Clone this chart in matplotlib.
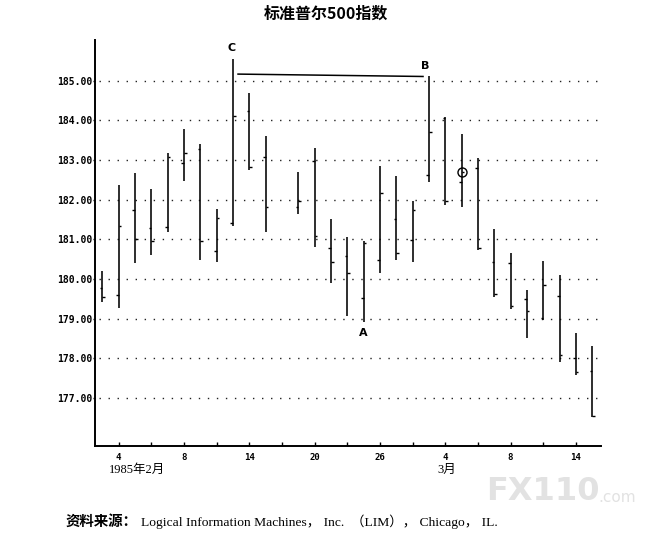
import matplotlib.pyplot as plt

# S&P 500 daily bars, Feb 1 - Mar 15 1985 (slot 11 = Feb 18 holiday, no bar)
slots = [0, 1, 2, 3, 4, 5, 6, 7, 8, 9, 10, 12, 13, 14, 15, 16, 17, 18, 19, 20,
         21, 22, 23, 24, 25, 26, 27, 28, 29, 30]
opens = [179.77, 179.60, 181.73, 181.30, 181.31, 182.92, 183.28, 180.70, 181.41, 184.24,
         183.07, 181.83, 182.97, 180.78, 180.59, 179.52, 180.49, 181.51, 180.99, 182.63,
         184.06, 182.44, 182.80, 180.44, 180.40, 179.49, 179.01, 179.58, 178.00, 177.67]
highs = [180.21, 182.38, 182.67, 182.27, 183.18, 183.78, 183.41, 181.76, 185.55, 184.69,
         183.62, 182.71, 183.30, 181.51, 181.07, 180.95, 182.84, 182.59, 181.97, 185.11,
         184.08, 183.66, 183.05, 181.27, 180.65, 179.73, 180.46, 180.11, 178.65, 178.32]
lows = [179.41, 179.26, 180.40, 180.61, 181.20, 182.48, 180.49, 180.42, 181.34, 182.74,
        181.18, 181.64, 180.80, 179.91, 179.06, 178.91, 180.15, 180.49, 180.44, 182.45,
        181.86, 181.81, 180.74, 179.56, 179.24, 178.51, 178.97, 177.91, 177.57, 176.51]
closes = [179.56, 181.33, 181.00, 180.97, 183.09, 183.18, 180.95, 181.54, 184.12, 182.82,
          181.83, 181.96, 181.09, 180.44, 180.15, 180.90, 182.17, 180.67, 181.75, 183.72,
          181.96, 182.69, 180.78, 179.63, 179.31, 179.20, 179.85, 178.09, 177.65, 176.55]

y_ticks = [177, 178, 179, 180, 181, 182, 183, 184, 185]
x_tick_slots = list(range(1, 30, 2))
x_label_map = {1: '4', 5: '8', 9: '14', 13: '20', 17: '26', 21: '4', 25: '8', 29: '14'}

W, H = 665, 542
fig = plt.figure(figsize=(W / 100, H / 100), dpi=100)
ax = fig.add_axes([95 / W, 1 - 446 / H, (601 - 95) / W, (446 - 40) / H])

def px(x, y):
    return x / W, 1 - y / H

# dotted price grid
for yv in y_ticks:
    ax.plot([-0.2, 30.4], [yv, yv], color='#222222', lw=1.0,
            linestyle=(0, (1, 5.5)), zorder=1)

# OHLC bars
ax.vlines(slots, lows, highs, color='black', lw=1.15, zorder=3)
ax.hlines(opens, [s - 0.16 for s in slots], slots, color='black', lw=1.0, zorder=3)
ax.hlines(closes, slots, [s + 0.16 for s in slots], color='black', lw=1.0, zorder=3)

# C-B line and annotations
ax.plot([8.31, 19.64], [185.17, 185.11], color='black', lw=1.1)
ax.plot([22.05], [182.69], marker='o', ms=6.5, mfc='none', mec='black', mew=1.0)
ax.text(7.9, 185.84, 'C', ha='center', va='center', fontsize=8, fontweight='bold')
ax.text(19.75, 185.38, 'B', ha='center', va='center', fontsize=8, fontweight='bold')
ax.text(15.95, 178.64, 'A', ha='center', va='center', fontsize=8, fontweight='bold')

ax.set_xlim(-0.45, 30.54)
ax.set_ylim(175.79, 186.03)

ax.set_yticks(y_ticks)
ax.set_yticklabels(['%.2f' % v for v in y_ticks], family='DejaVu Sans Mono',
                   fontweight='bold', fontsize=7)
ax.set_xticks(x_tick_slots)
ax.set_xticklabels([x_label_map.get(s, '') for s in x_tick_slots],
                   family='DejaVu Sans Mono', fontweight='bold', fontsize=6.5)
ax.tick_params(axis='y', length=1.5, width=1, pad=0.5)
ax.tick_params(axis='x', direction='in', length=3, width=1, pad=5)

for side in ['top', 'right']:
    ax.spines[side].set_visible(False)
for side in ['left', 'bottom']:
    ax.spines[side].set_linewidth(1.4)

cjk_serif = ['Liberation Serif', 'Noto Sans CJK SC']
fig.text(*px(137, 470), '1985年2月', ha='center', va='center', fontsize=9, family=cjk_serif)
fig.text(*px(447, 470), '3月', ha='center', va='center', fontsize=9, family=cjk_serif)

fig.text(*px(326, 14), '标准普尔500指数', ha='center', va='center', fontsize=11.5,
         fontweight='bold', family=['Noto Sans CJK SC', 'DejaVu Sans'])

fig.text(*px(66, 522), '资料来源：', ha='left', va='center', fontsize=10.4,
         fontweight='bold', family=['Noto Sans CJK SC', 'DejaVu Sans'])
fig.text(*px(141, 522), 'Logical Information Machines， Inc.  （LIM）， Chicago， IL.',
         ha='left', va='center', fontsize=9.7, family=cjk_serif)

# watermark
fig.text(*px(486, 492), 'FX110', ha='left', va='center', fontsize=23,
         fontweight='bold', color='#e2e2e2', family='DejaVu Sans')
fig.text(*px(598, 497), '.com', ha='left', va='center', fontsize=11,
         color='#e2e2e2', family='DejaVu Sans')

fig.savefig('out.png', dpi=100)
